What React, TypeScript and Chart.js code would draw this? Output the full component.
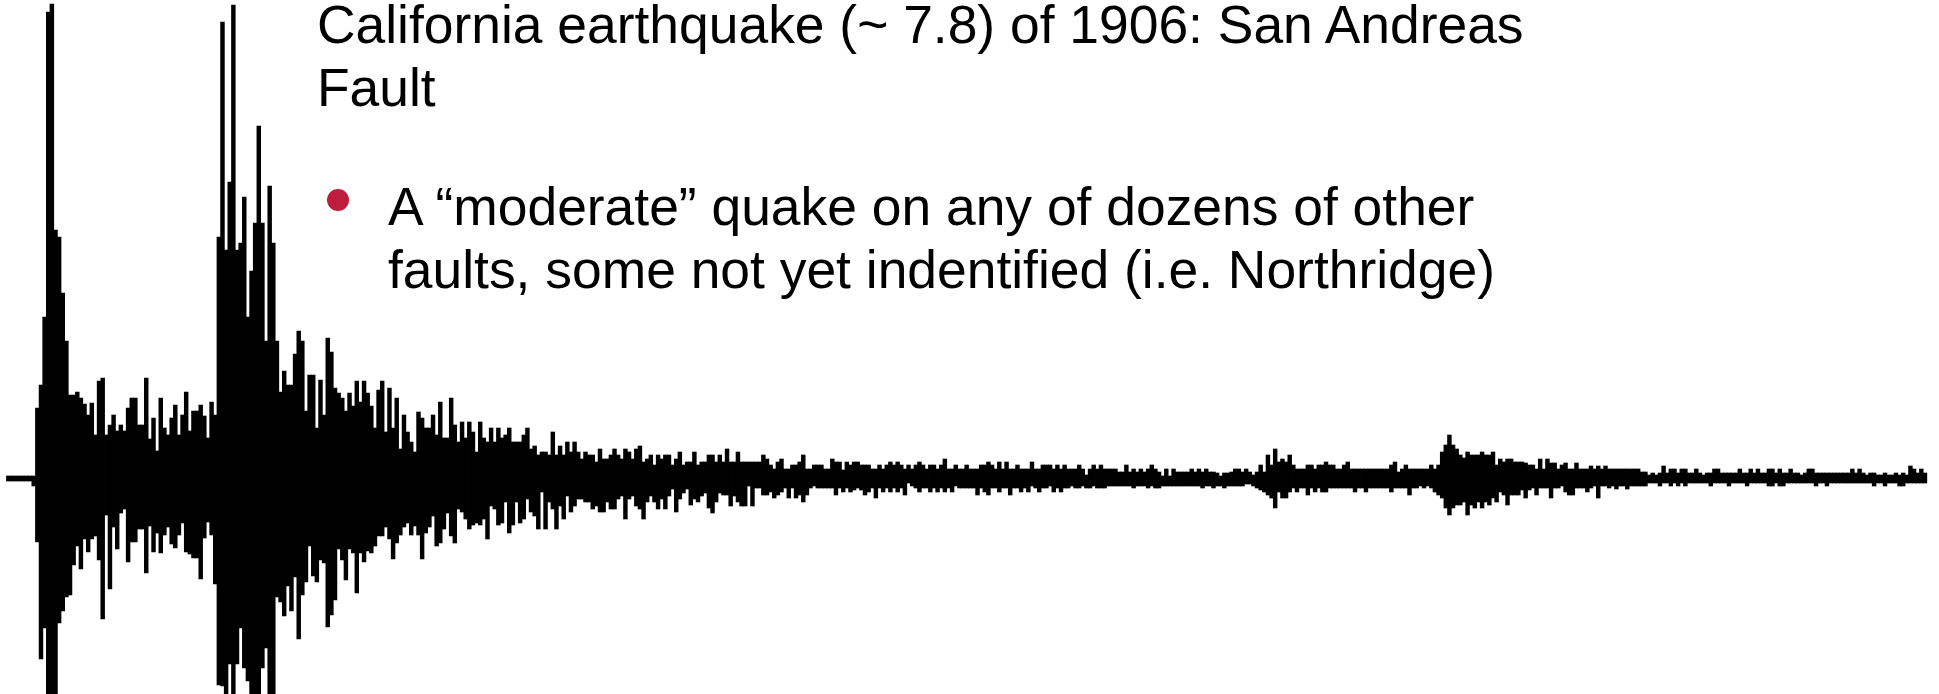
import React, { useEffect, useRef } from "react";
import { Chart, registerables } from "chart.js";

Chart.register(...registerables);

// Seismogram trace: per-sample envelope (upper / lower excursion) relative to the zero line.
// Units: trace amplitude; samples are equally spaced in time.
const preEventMax = [2, 2, 2, 2, 2, 2, 2, 2];
const preEventMin = [-3, -3, -3, -3, -3, -3, -3, -8];

const firstArrivalMax = [
  70, 93, 161, 466, 474, 248, 241, 185, 137, 83, 83, 86, 80, 74, 63, 75, 43, 97, 100, 43,
  53, 63, 47, 53, 47, 70, 80, 80, 53, 53, 100, 39, 60, 27, 80, 50, 43, 60, 73, 43,
  63, 86, 47, 67, 67, 73,
];
const firstArrivalMin = [
  -64, -181, -150, -230, -230, -230, -145, -133, -119, -117, -87, -68, -91, -61, -74, -61, -58, -82, -141, -37,
  -111, -49, -71, -35, -31, -84, -64, -64, -51, -51, -95, -48, -74, -55, -75, -57, -49, -66, -70, -57,
  -45, -74, -76, -80, -80, -101,
];

const mainShockMax = [
  62, 40, 76, 63, 241, 456, 228, 296, 473, 228, 235, 281, 161, 207, 255, 352, 255, 137, 292, 235,
  137, 86, 107, 93, 93, 124, 147, 137, 67, 103, 103, 50, 98, 63, 140, 126, 90, 85, 80, 67,
  85, 72, 97, 76, 97, 85, 72, 50, 88,
];
const mainShockMin = [
  -60, -44, -57, -106, -207, -208, -230, -186, -230, -186, -150, -190, -203, -230, -230, -230, -190, -170, -230, -230,
  -119, -124, -138, -108, -133, -99, -161, -117, -104, -68, -98, -104, -82, -85, -149, -137, -122, -71, -82, -102,
  -71, -75, -115, -75, -84, -73, -75, -68, -58,
];

const codaMax = [
  97, 46, 90, 50, 80, 29, 63, 46, 36, 26, 66, 60, 50, 50, 63, 43, 76, 40, 40, 80,
  53, 36, 56, 40, 56, 46, 26, 56, 40, 36, 50, 36, 50, 40, 43, 50, 36, 36, 36, 43,
  50, 29, 32, 23, 26, 26, 23, 46, 23, 32, 23, 36, 26, 36, 26, 19, 26, 23, 23, 16,
  29, 19, 19, 23, 29, 23, 19, 29, 26, 19, 29, 32, 16, 19, 23, 13, 23, 19, 23, 23,
  13, 19, 26, 13, 16, 16, 26, 13,
];
const codaMin = [
  -58, -49, -61, -81, -65, -57, -49, -45, -57, -48, -57, -81, -55, -49, -38, -68, -65, -51, -35, -58,
  -65, -31, -34, -41, -51, -47, -45, -47, -41, -61, -28, -31, -47, -45, -24, -55, -47, -24, -45, -41,
  -21, -34, -38, -51, -14, -51, -24, -31, -51, -28, -41, -18, -34, -28, -21, -21, -24, -24, -31, -28,
  -34, -34, -24, -31, -31, -21, -18, -41, -21, -18, -28, -31, -41, -24, -18, -24, -31, -21, -31, -18,
  -11, -34, -21, -15, -11, -27, -21, -24,
];

const lateCodaMax = [
  16, 16, 23, 23, 16, 23, 16, 29, 16, 16, 26, 16, 16, 16, 16, 16, 16, 23, 19, 13,
  9, 16, 19, 9, 9, 13, 13, 16, 23, 9, 9, 13, 13, 13, 9, 9, 19, 16, 16, 8,
  16, 13, 16, 16, 13, 13, 13, 9, 9, 13, 9, 13, 16, 13, 16, 13, 9, 13, 9, 13,
  16, 13, 9, 13, 13, 9, 13, 19, 9, 9, 13, 9, 9, 13, 9, 9, 9, 13, 13, 16,
  13, 9, 16, 9, 16, 9, 9, 13, 9, 9, 9, 16, 9, 9, 13, 13, 13, 9, 13, 9,
  13, 9, 9, 9, 13, 9, 3, 9, 13, 9, 13, 9, 9,
];
const lateCodaMin = [
  -18, -15, -30, -35, -24, -15, -17, -17, -28, -18, -24, -28, -28, -8, -28, -10, -10, -17, -17, -14,
  -20, -17, -14, -10, -20, -10, -20, -17, -24, -17, -10, -8, -10, -10, -10, -10, -10, -17, -10, -14,
  -10, -14, -12, -10, -12, -17, -14, -10, -20, -10, -14, -10, -14, -10, -14, -10, -17, -5, -8, -10,
  -14, -10, -10, -14, -10, -14, -10, -14, -10, -14, -8, -10, -10, -10, -10, -10, -17, -10, -14, -17,
  -10, -10, -14, -10, -10, -17, -10, -10, -14, -10, -14, -8, -10, -14, -10, -10, -8, -14, -10, -14,
  -10, -10, -8, -10, -10, -8, -10, -10, -8, -10, -10, -10, -8,
];

const aftershockMax = [
  9, 9, 6, 6, 13, 6, 9, 6, 9, 6, 9, 13, 9, 6, 2, 9, 2, 9, 6, 6,
  6, 6, 9, 6, 9, 6, 9, 6, 6, 5, 2, 5, 5, 6, 9, 9, 6, 9, 6, 3,
  6, 13, 6, 23, 13, 29, 16, 19, 16, 23, 13, 9, 9, 9, 13, 13, 9, 13, 13, 16,
  13, 13, 9, 9, 13, 16, 9, 9, 9, 9, 9, 9, 9, 9, 9, 9, 9, 13, 16, 6,
  9, 13, 9, 9, 9, 9, 9, 9, 13, 9, 13, 26, 33, 43, 33, 29, 23, 20, 26, 23,
  23, 23, 26, 23, 23, 26, 13, 19, 16, 19, 19, 16, 16,
];
const aftershockMin = [
  -8, -8, -8, -8, -8, -8, -10, -8, -8, -8, -10, -8, -10, -10, -8, -8, -8, -8, -8, -8,
  -8, -8, -8, -8, -8, -10, -8, -8, -10, -8, -8, -10, -8, -8, -8, -8, -8, -6, -6, -8,
  -10, -12, -14, -17, -20, -30, -14, -20, -20, -14, -10, -14, -10, -10, -17, -10, -14, -10, -14, -14,
  -10, -10, -10, -10, -10, -10, -10, -14, -10, -10, -14, -10, -10, -10, -10, -10, -10, -14, -10, -10,
  -10, -10, -17, -10, -10, -8, -10, -8, -10, -14, -17, -20, -30, -37, -30, -27, -27, -24, -37, -27,
  -30, -24, -30, -24, -27, -20, -24, -14, -17, -27, -17, -17, -17,
];

const tailMax = [
  16, 15, 13, 13, 9, 19, 9, 19, 15, 15, 9, 13, 15, 9, 9, 15, 9, 9, 9, 12,
  9, 12, 9, 12, 9, 9, 9, 9, 9, 9, 9, 9, 9, 6, 6, 3, 5, 3, 5, 12,
  5, 9, 9, 5, 9, 9, 5, 5, 9, 5, 3, 5, 5, 9, 9, 5, 5, 5, 5, 5,
  9, 5, 5, 9, 5, 9, 5, 5, 9, 9, 5, 9, 5, 5, 9, 5, 5, 3, 5, 9,
  9, 5, 5, 5, 5, 5, 5, 5, 5, 5, 5, 9, 5, 9, 5, 3, 5, 5, 3, 3,
  5, 3, 3, 5, 3, 5, 3, 12, 9, 5, 9, 5,
];
const tailMin = [
  -12, -20, -12, -10, -17, -10, -10, -10, -20, -10, -10, -8, -14, -17, -17, -10, -10, -10, -14, -10,
  -8, -20, -8, -8, -10, -8, -11, -8, -8, -11, -8, -8, -8, -8, -8, -5, -5, -5, -8, -5,
  -5, -8, -5, -8, -5, -8, -5, -5, -5, -5, -5, -5, -8, -5, -5, -5, -5, -8, -5, -5,
  -5, -5, -8, -5, -5, -5, -5, -5, -8, -8, -5, -8, -8, -5, -5, -5, -5, -5, -5, -5,
  -5, -8, -5, -5, -8, -5, -5, -5, -5, -5, -5, -5, -5, -5, -5, -5, -5, -8, -5, -5,
  -8, -5, -5, -5, -8, -8, -5, -5, -5, -5, -5, -5,
];

const traceMax = [
  ...preEventMax, ...firstArrivalMax, ...mainShockMax, ...codaMax,
  ...lateCodaMax, ...aftershockMax, ...tailMax,
];
const traceMin = [
  ...preEventMin, ...firstArrivalMin, ...mainShockMin, ...codaMin,
  ...lateCodaMin, ...aftershockMin, ...tailMin,
];

const titleLines = ["California earthquake (~ 7.8) of 1906: San Andreas", "Fault"];
const bulletLines = [
  "A \u201Cmoderate\u201D quake on any of dozens of other",
  "faults, some not yet indentified (i.e. Northridge)",
];

const W = 1939;
const H = 694;
const SAMPLE_PX = 3.63;
const X_MIN = -2.29;
const FONT = "'Liberation Sans', Arial, Helvetica, sans-serif";

export default function App() {
  const canvasRef = useRef<HTMLCanvasElement | null>(null);

  useEffect(() => {
    const canvas = canvasRef.current;
    if (!canvas) return;
    const data = traceMax.map((hi, i) => ({ x: i, y: [traceMin[i], hi] }));
    const chart = new Chart(canvas, {
      type: "bar",
      data: {
        datasets: [
          {
            data: data as any,
            backgroundColor: "#000000",
            borderWidth: 0,
            barThickness: 3.8,
          },
        ],
      },
      options: {
        animation: false,
        responsive: false,
        maintainAspectRatio: false,
        devicePixelRatio: 1,
        layout: { padding: 0 },
        plugins: { legend: { display: false }, tooltip: { enabled: false }, title: { display: false } },
        scales: {
          x: { type: "linear", min: X_MIN, max: X_MIN + W / SAMPLE_PX, display: false, offset: false },
          y: { type: "linear", min: -216, max: 478, display: false },
        },
      },
    });
    return () => chart.destroy();
  }, []);

  return (
    <div style={{ position: "absolute", left: 0, top: 0, width: W, height: H, background: "#fff", overflow: "hidden" }}>
      <canvas ref={canvasRef} width={W} height={H} style={{ position: "absolute", left: 0, top: 0, width: W, height: H }} />
      <div
        style={{
          position: "absolute",
          left: 317,
          top: -7,
          fontFamily: FONT,
          fontSize: 53.4,
          lineHeight: "63px",
          color: "#000",
          whiteSpace: "nowrap",
        }}
      >
        {titleLines.map((l, i) => (
          <div key={i}>{l}</div>
        ))}
      </div>
      <div
        style={{
          position: "absolute",
          left: 327,
          top: 189,
          width: 22,
          height: 22,
          borderRadius: "50%",
          background: "#BE1E3C",
        }}
      />
      <div
        style={{
          position: "absolute",
          left: 388,
          top: 175,
          fontFamily: FONT,
          fontSize: 53.4,
          lineHeight: "63px",
          color: "#000",
          whiteSpace: "nowrap",
        }}
      >
        {bulletLines.map((l, i) => (
          <div key={i}>{l}</div>
        ))}
      </div>
    </div>
  );
}
